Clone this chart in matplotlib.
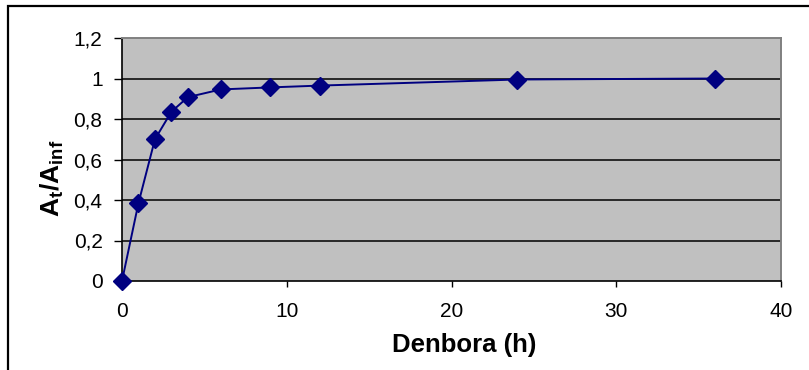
import matplotlib
matplotlib.use("Agg")
import matplotlib.pyplot as plt
from matplotlib.patches import Rectangle

plt.rcParams['font.family'] = ['Liberation Sans', 'DejaVu Sans']
plt.rcParams['mathtext.fontset'] = 'custom'
plt.rcParams['mathtext.bf'] = 'Liberation Sans:bold'
plt.rcParams['mathtext.rm'] = 'Liberation Sans'

time_h = [0, 1, 2, 3, 4, 6, 9, 12, 24, 36]
ratio = [0.0, 0.385, 0.70, 0.836, 0.908, 0.946, 0.956, 0.965, 0.995, 1.0]
y_ticks = [0, 0.2, 0.4, 0.6, 0.8, 1.0, 1.2]
y_tick_labels = ['0', '0,2', '0,4', '0,6', '0,8', '1', '1,2']
x_ticks = [0, 10, 20, 30, 40]
x_tick_labels = ['0', '10', '20', '30', '40']

W, H = 809, 370
fig = plt.figure(figsize=(W / 100, H / 100), dpi=100)
fig.patch.set_facecolor('white')

# outer chart frame
fig.patches.append(Rectangle((8 / W, -0.05), 1.2, (H - 6) / H + 0.05,
                             transform=fig.transFigure, fill=False,
                             edgecolor='black', linewidth=1.6))

ax = fig.add_axes([122 / W, 1 - 281 / H, (781 - 122) / W, (281 - 38) / H])
ax.set_facecolor('#C0C0C0')
ax.set_xlim(0, 40)
ax.set_ylim(0, 1.2)

for yv in y_ticks[1:-1]:
    ax.axhline(yv, color='black', linewidth=1.1, zorder=1)

ax.plot(time_h, ratio, color='#000080', linewidth=1.4, marker='D',
        markersize=9.5, markerfacecolor='#000080', markeredgecolor='#000080',
        zorder=3, clip_on=False)

ax.set_yticks(y_ticks)
ax.set_yticklabels(y_tick_labels)
ax.set_xticks(x_ticks)
ax.set_xticklabels(x_tick_labels)
ax.tick_params(axis='y', direction='out', length=6, width=1, pad=8, labelsize=15)
ax.tick_params(axis='x', direction='out', length=4, width=1, pad=11, labelsize=15)

for s in ['left', 'bottom']:
    ax.spines[s].set_color('black')
    ax.spines[s].set_linewidth(1.2)
for s in ['top', 'right']:
    ax.spines[s].set_color('#808080')
    ax.spines[s].set_linewidth(1.4)

ax.set_xlabel('Denbora (h)', fontsize=18.5, fontweight='bold')
ax.xaxis.set_label_coords((464 - 122) / 659, -0.215)
ax.set_ylabel(r'$\mathbf{A_t/A_{inf}}$', fontsize=19)
ax.yaxis.set_label_coords(-0.085, 0.424)

fig.savefig('out.png', dpi=100)
